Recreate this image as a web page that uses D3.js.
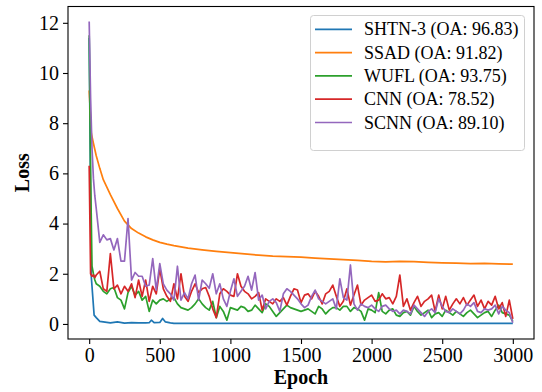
<!DOCTYPE html>
<html>
<head>
<meta charset="utf-8">
<script src="https://cdn.jsdelivr.net/npm/d3@7"></script>
<style>
  body { margin: 0; background: #fff; }
  svg text { font-family: "Liberation Serif", "Times New Roman", serif; fill: #000; }
</style>
</head>
<body>
<div id="chart"></div>
<script>
// ---- data ----
const seriesNames = ["SHTN-3 (OA: 96.83)", "SSAD (OA: 91.82)", "WUFL (OA: 93.75)", "CNN (OA: 78.52)", "SCNN (OA: 89.10)"];
const seriesColors = ["#1f77b4", "#ff7f0e", "#2ca02c", "#d62728", "#9467bd"];
const xTicks = [0, 500, 1000, 1500, 2000, 2500, 3000];
const yTicks = [0, 2, 4, 6, 8, 10, 12];

const shtnEpochs = [0, 15, 35, 50, 75, 100, 150, 200, 250, 300, 350, 400, 425, 440, 460, 500, 520, 540, 575, 600, 1000, 1500, 2000, 2500, 3000];
const shtnLoss   = [11.4, 1.88, 0.35, 0.25, 0.1, 0.08, 0.04, 0.08, 0.03, 0.05, 0.04, 0.04, 0.05, 0.15, 0.05, 0.06, 0.22, 0.08, 0.04, 0.02, 0.02, 0.02, 0.02, 0.02, 0.02];

const ssadEpochs = [0, 15, 30, 50, 75, 100, 150, 200, 250, 300, 350, 400, 450, 500, 550, 600, 700, 800, 900, 1000,
  1100, 1200, 1300, 1400, 1500, 1600, 1700, 1800, 1900, 2000, 2100, 2200, 2300, 2400, 2500, 2600, 2700, 2800, 2900, 3000];
const ssadLoss   = [9.3, 7.6, 7.2, 6.7, 6.2, 5.75, 5.15, 4.6, 4.1, 3.8, 3.62, 3.47, 3.35, 3.25, 3.18, 3.12, 3.02, 2.95, 2.89, 2.84,
  2.79, 2.74, 2.7, 2.68, 2.66, 2.62, 2.59, 2.56, 2.53, 2.49, 2.47, 2.49, 2.48, 2.45, 2.43, 2.42, 2.4, 2.41, 2.39, 2.38];

// noisy curves share one epoch grid
const noisyEpochs = [0, 10, 20, 30, 40, 50].concat(d3.range(75, 3001, 25));

const wuflLoss = [11.5, 6.0, 2.3, 2.0, 1.75, 1.6,
  1.5, 1.3, 1.2, 1.4, 1.45, 1.05, 0.95, 0.6, 1.25, 1.5,
  1.15, 1.3, 0.95, 1.1, 0.5, 0.95, 0.8, 0.95, 1.0, 0.9,
  1.0, 1.05, 0.8, 0.65, 0.6, 0.55, 0.65, 0.8, 1.0, 0.8,
  0.65, 0.55, 0.9, 0.25, 0.7, 0.5, 0.15, 0.65, 0.6, 0.55,
  0.7, 0.65, 0.5, 0.55, 0.75, 0.6, 0.45, 0.8, 0.7, 0.5,
  0.3, 0.45, 0.6, 0.75, 0.65, 0.6, 0.55, 0.5, 0.55, 0.6,
  0.5, 0.4, 0.7, 0.6, 0.4, 0.55, 0.65, 0.65, 0.55, 0.7,
  0.7, 0.5, 0.65, 0.6, 0.5, 0.15, 0.6, 0.55, 0.45, 1.25,
  0.5, 0.4, 0.55, 0.6, 0.35, 0.3, 0.45, 0.5, 0.35, 0.7,
  0.5, 0.35, 0.45, 0.55, 0.25, 0.4, 0.45, 0.3, 0.55, 0.45,
  0.35, 0.5, 0.4, 0.3, 0.45, 0.55, 0.4, 0.25, 0.35, 0.45,
  0.5, 0.3, 0.55, 0.75, 0.45, 0.4, 0.35, 0.1];

const cnnLoss = [6.3, 2.0, 1.9, 1.95, 1.85, 1.95,
  2.1, 1.4, 1.3, 2.8, 1.4, 1.55, 1.2, 1.5, 1.3, 1.6,
  1.05, 1.75, 1.1, 1.75, 0.9, 1.5, 1.2, 2.2, 1.4, 1.1,
  0.9, 1.6, 1.0, 2.0, 1.1, 0.9, 1.3, 1.6, 1.25, 1.4,
  1.45, 1.1, 0.6, 0.25, 1.2, 1.4, 1.3, 1.15, 1.1, 2.0,
  1.5, 1.3, 1.2, 1.0, 1.1, 1.25, 0.55, 1.0, 0.9, 0.8,
  1.0, 0.9, 1.05, 0.75, 1.1, 1.4, 1.35, 0.85, 1.15, 1.2,
  1.0, 1.3, 1.1, 0.8, 1.2, 1.3, 1.55, 1.1, 0.7, 0.9,
  1.4, 0.75, 1.15, 1.55, 0.75, 0.95, 1.05, 1.15, 0.9, 0.95,
  1.2, 1.0, 1.05, 0.8, 1.1, 1.95, 0.7, 1.0, 0.55, 0.85,
  1.1, 0.7, 0.9, 1.0, 1.15, 0.5, 1.15, 0.6, 1.1, 0.55,
  0.8, 1.0, 0.8, 1.05, 0.75, 0.95, 1.15, 0.7, 0.95, 0.6,
  0.9, 0.75, 1.1, 0.6, 0.85, 0.3, 0.95, 0.2];

const scnnLoss = [12.05, 9.0, 7.0, 5.8, 5.1, 4.6,
  3.25, 3.55, 3.35, 3.4, 2.95, 3.4, 2.5, 2.5, 4.2, 1.75,
  2.05, 1.9, 1.9, 1.5, 1.55, 2.6, 1.35, 2.4, 1.6, 1.35,
  1.2, 0.95, 2.3, 0.95, 1.25, 1.0, 1.6, 1.95, 0.95, 1.75,
  1.6, 1.42, 2.0, 1.2, 1.6, 1.0, 0.7, 1.3, 1.8, 1.1,
  1.3, 1.5, 1.9, 1.35, 2.05, 0.95, 1.15, 0.6, 0.9, 1.0,
  0.85, 0.5, 1.2, 1.4, 1.3, 1.15, 1.0, 0.8, 0.65, 0.75,
  1.1, 1.35, 1.0, 0.9, 0.8, 0.9, 1.0, 0.6, 1.8, 1.05,
  0.95, 2.35, 0.8, 0.55, 0.8, 0.7, 0.65, 0.75, 0.6, 0.5,
  0.7, 0.75, 0.6, 0.5, 0.55, 0.4, 0.55, 0.5, 0.4, 0.75,
  0.6, 0.45, 0.3, 0.5, 0.6, 0.45, 1.0, 0.7, 0.5, 0.45,
  0.6, 0.5, 0.4, 0.55, 0.8, 0.7, 0.85, 0.5, 0.45, 0.6,
  0.55, 0.6, 0.75, 0.4, 0.7, 0.55, 0.45, 0.05];

// ---- chart ----
const width = 542, height = 392;
const marginTop = 6.5, marginRight = 8, marginBottom = 53, marginLeft = 68;
const serif = "'Liberation Serif', 'Times New Roman', serif";

const series = [
  { x: shtnEpochs, y: shtnLoss },
  { x: ssadEpochs, y: ssadLoss },
  { x: noisyEpochs, y: wuflLoss },
  { x: noisyEpochs, y: cnnLoss },
  { x: noisyEpochs, y: scnnLoss }
].map((s, i) => ({ name: seriesNames[i], color: seriesColors[i], points: s.x.map((e, j) => [e, s.y[j]]) }));

const xScale = d3.scaleLinear([-150, 3150], [marginLeft, width - marginRight]);
const yScale = d3.scaleLinear([-0.6, 12.65], [height - marginBottom, marginTop]);

const svg = d3.select("#chart").append("svg")
    .attr("width", width)
    .attr("height", height)
    .attr("viewBox", [0, 0, width, height]);

svg.append("defs").append("clipPath")
    .attr("id", "clip")
  .append("rect")
    .attr("x", marginLeft)
    .attr("y", marginTop)
    .attr("width", width - marginLeft - marginRight)
    .attr("height", height - marginTop - marginBottom);

// x axis
svg.append("g")
    .attr("transform", `translate(0,${height - marginBottom})`)
    .call(d3.axisBottom(xScale).tickValues(xTicks).tickSize(5).tickPadding(4).tickFormat(d3.format("d")))
    .attr("font-family", serif)
    .attr("font-size", 20)
    .call(g => g.select(".domain").remove())
    .call(g => g.selectAll(".tick line").attr("stroke", "#000").attr("stroke-width", 1.1));

// y axis
svg.append("g")
    .attr("transform", `translate(${marginLeft},0)`)
    .call(d3.axisLeft(yScale).tickValues(yTicks).tickSize(5).tickPadding(4).tickFormat(d3.format("d")))
    .attr("font-family", serif)
    .attr("font-size", 20)
    .call(g => g.select(".domain").remove())
    .call(g => g.selectAll(".tick line").attr("stroke", "#000").attr("stroke-width", 1.1));

// lines
const line = d3.line()
    .x(d => xScale(d[0]))
    .y(d => yScale(d[1]));

svg.append("g")
    .attr("clip-path", "url(#clip)")
  .selectAll("path")
  .data(series)
  .join("path")
    .attr("fill", "none")
    .attr("stroke", d => d.color)
    .attr("stroke-width", 1.7)
    .attr("stroke-linejoin", "round")
    .attr("d", d => line(d.points));

// frame
svg.append("rect")
    .attr("x", marginLeft)
    .attr("y", marginTop)
    .attr("width", width - marginLeft - marginRight)
    .attr("height", height - marginTop - marginBottom)
    .attr("fill", "none")
    .attr("stroke", "#000")
    .attr("stroke-width", 1.1);

// axis labels
svg.append("text")
    .attr("x", (marginLeft + width - marginRight) / 2)
    .attr("y", 384)
    .attr("text-anchor", "middle")
    .attr("font-size", 20)
    .attr("font-weight", "bold")
    .text("Epoch");

svg.append("text")
    .attr("transform", `translate(29,${(marginTop + height - marginBottom) / 2}) rotate(-90)`)
    .attr("text-anchor", "middle")
    .attr("font-size", 20)
    .attr("font-weight", "bold")
    .text("Loss");

// legend
const legend = svg.append("g");
legend.append("rect")
    .attr("x", 310.5)
    .attr("y", 15.5)
    .attr("width", 214)
    .attr("height", 135)
    .attr("rx", 3)
    .attr("fill", "#fff")
    .attr("fill-opacity", 0.8)
    .attr("stroke", "#d0d0d0");

const rows = legend.selectAll("g.row")
  .data(series)
  .join("g")
    .attr("class", "row")
    .attr("transform", (d, i) => `translate(0,${29.3 + i * 23.3})`);

rows.append("line")
    .attr("x1", 315)
    .attr("x2", 352)
    .attr("stroke", d => d.color)
    .attr("stroke-width", 1.7);

rows.append("text")
    .attr("x", 364)
    .attr("dy", "0.34em")
    .attr("font-size", 18)
    .text(d => d.name);
</script>
</body>
</html>
